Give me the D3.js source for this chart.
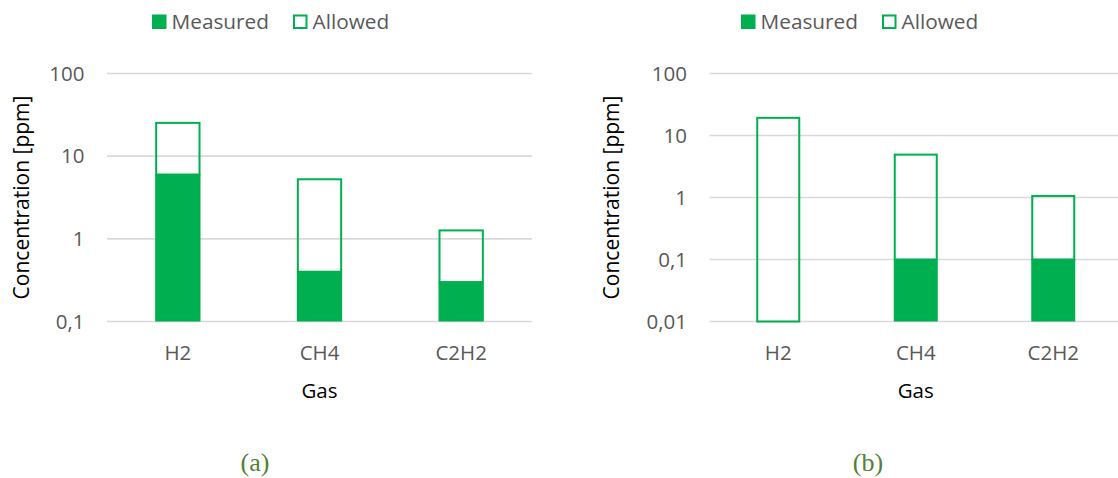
<!DOCTYPE html>
<html>
<head>
<meta charset="utf-8">
<script src="https://cdn.jsdelivr.net/npm/d3@7"></script>
<style>
  html, body { margin: 0; padding: 0; background: #ffffff; }
  svg { display: block; }
  text { font-family: "Open Sans", "Noto Sans", sans-serif; }
</style>
</head>
<body>
<svg id="chart" width="1118" height="478"></svg>
<script>
// Gas concentrations (ppm) for the two cases
const gases = ["H2", "CH4", "C2H2"];
const measuredA = [6, 0.4, 0.3];
const allowedA = [20, 5, 1];
const measuredB = [0, 0.1, 0.1];
const allowedB = [20, 5, 1];
const ticksA = [0.1, 1, 10, 100];
const ticksB = [0.01, 0.1, 1, 10, 100];
const seriesNames = ["Measured", "Allowed"];
const captions = ["(a)", "(b)"];

const GREEN = "#00b050";
const GRID = "#d9d9d9";
const TICK_TEXT = "#595959";

const svg = d3.select("#chart");

// decimal comma, e.g. 0,1
const fmt = v => String(v).replace(".", ",");

const panels = [
  { measured: measuredA, allowed: allowedA, ticks: ticksA, caption: captions[0],
    x0: 107, x1: 532, legendX: 152, legendGap: 141, titleX: 22, captionX: 255 },
  { measured: measuredB, allowed: allowedB, ticks: ticksB, caption: captions[1],
    x0: 709.5, x1: 1122, legendX: 741, legendGap: 141, titleX: 612, captionX: 868 }
];

const plotTop = 73.5, plotBottom = 321.5;

panels.forEach(p => {
  const g = svg.append("g");
  const lo = p.ticks[0], hi = p.ticks[p.ticks.length - 1];

  const x = d3.scaleBand().domain(gases).range([p.x0, p.x1])
    .paddingInner(0.68).paddingOuter(0.34);
  const y = d3.scaleLog().domain([lo, hi]).range([plotBottom, plotTop]);

  // horizontal gridlines
  g.append("g").selectAll("line").data(p.ticks).join("line")
    .attr("x1", p.x0).attr("x2", p.x1)
    .attr("y1", d => y(d)).attr("y2", d => y(d))
    .attr("stroke", GRID).attr("stroke-width", 1.6);

  // y tick labels
  const yAxis = d3.axisLeft(y).tickValues(p.ticks).tickFormat(fmt).tickSize(0).tickPadding(22.5);
  const ya = g.append("g").attr("transform", `translate(${p.x0},0)`).call(yAxis);
  ya.select(".domain").remove();
  ya.selectAll("text").attr("fill", TICK_TEXT).style("font-size", "20.5px")
    .style("font-family", '"Open Sans", sans-serif');

  // x category labels
  const xAxis = d3.axisBottom(x).tickSize(0).tickPadding(0);
  const xa = g.append("g").attr("transform", `translate(0,${plotBottom})`).call(xAxis);
  xa.select(".domain").remove();
  xa.selectAll("text").attr("fill", TICK_TEXT).style("font-size", "20.5px")
    .style("font-family", '"Open Sans", sans-serif')
    .attr("dy", null).attr("y", 38);

  // stacked bars: measured at the bottom, allowed stacked on top
  const rows = gases.map((k, i) => ({
    gas: k,
    m: p.measured[i],
    total: p.measured[i] + p.allowed[i]
  }));
  const clampY = v => y(Math.max(v, lo));

  g.append("g").selectAll("rect").data(rows.filter(d => d.m > lo)).join("rect")
    .attr("x", d => x(d.gas)).attr("width", x.bandwidth())
    .attr("y", d => clampY(d.m))
    .attr("height", d => y(lo) - clampY(d.m))
    .attr("fill", GREEN);

  g.append("g").selectAll("rect").data(rows).join("rect")
    .attr("x", d => x(d.gas) + 1).attr("width", x.bandwidth() - 2)
    .attr("y", d => clampY(d.total) + 1)
    .attr("height", d => clampY(d.m) - clampY(d.total) - 1)
    .attr("fill", "none").attr("stroke", GREEN).attr("stroke-width", 2);

  // axis titles
  g.append("text")
    .attr("transform", `translate(${p.titleX},${(plotTop + plotBottom) / 2}) rotate(-90)`)
    .attr("text-anchor", "middle").attr("dy", "0.35em")
    .attr("fill", "#000").style("font-size", "21px")
    .text("Concentration [ppm]");
  g.append("text")
    .attr("x", (p.x0 + p.x1) / 2).attr("y", 398)
    .attr("text-anchor", "middle").attr("fill", "#000").style("font-size", "20.5px")
    .text("Gas");

  // legend
  const lg = g.append("g");
  seriesNames.forEach((name, i) => {
    const lx = p.legendX + i * p.legendGap;
    lg.append("rect")
      .attr("x", i ? lx + 1 : lx).attr("y", i ? 15.5 : 14.5)
      .attr("width", i ? 12.5 : 14.5).attr("height", i ? 12.5 : 14.5)
      .attr("fill", i ? "#fff" : GREEN)
      .attr("stroke", i ? GREEN : "none").attr("stroke-width", 2);
    lg.append("text").attr("x", lx + 19.5).attr("y", 29)
      .attr("fill", TICK_TEXT).style("font-size", "20.8px")
      .text(name);
  });

  // panel caption
  g.append("text")
    .attr("x", p.captionX).attr("y", 471)
    .attr("text-anchor", "middle").attr("fill", "#538135")
    .style("font-family", '"Liberation Serif", "Times New Roman", serif')
    .style("font-size", "26px")
    .text(p.caption);
});
</script>
</body>
</html>
